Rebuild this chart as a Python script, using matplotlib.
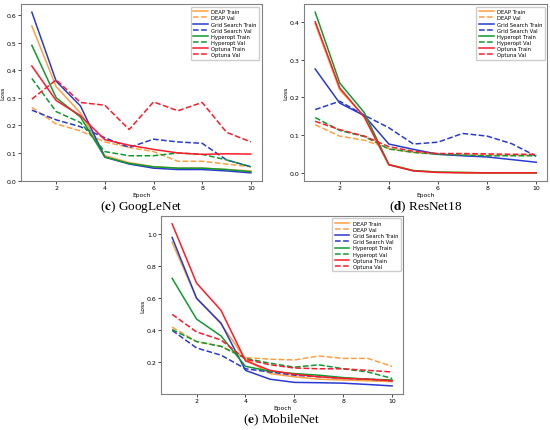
import matplotlib.pyplot as plt

plt.rcParams['mathtext.fontset'] = 'stix'

epochs = [1, 2, 3, 4, 5, 6, 7, 8, 9, 10]
methods = ['DEAP', 'Grid Search', 'Hyperopt', 'Optuna']
colors = ['#ffa040', '#2a3ad0', '#109a30', '#ff1a2a']

# GoogLeNet
g_deap_train = [0.56, 0.34, 0.245, 0.09, 0.065, 0.05, 0.045, 0.045, 0.04, 0.035]
g_deap_val = [0.265, 0.205, 0.18, 0.14, 0.12, 0.105, 0.07, 0.07, 0.06, 0.05]
g_grid_train = [0.61, 0.36, 0.27, 0.085, 0.06, 0.045, 0.04, 0.04, 0.035, 0.028]
g_grid_val = [0.255, 0.22, 0.195, 0.155, 0.12, 0.15, 0.14, 0.135, 0.075, 0.05]
g_hyp_train = [0.49, 0.30, 0.23, 0.085, 0.062, 0.05, 0.045, 0.045, 0.04, 0.032]
g_hyp_val = [0.37, 0.25, 0.21, 0.105, 0.09, 0.09, 0.10, 0.095, 0.075, 0.05]
g_opt_train = [0.415, 0.29, 0.235, 0.148, 0.128, 0.113, 0.10, 0.095, 0.097, 0.096]
g_opt_val = [0.295, 0.365, 0.283, 0.273, 0.185, 0.285, 0.253, 0.283, 0.175, 0.14]

# ResNet18
r_deap_train = [0.395, 0.22, 0.15, 0.023, 0.007, 0.003, 0.002, 0.001, 0.001, 0.001]
r_deap_val = [0.128, 0.098, 0.087, 0.065, 0.055, 0.05, 0.05, 0.048, 0.048, 0.048]
r_grid_train = [0.275, 0.185, 0.152, 0.077, 0.063, 0.05, 0.046, 0.043, 0.036, 0.029]
r_grid_val = [0.168, 0.19, 0.153, 0.12, 0.077, 0.082, 0.105, 0.098, 0.078, 0.045]
r_hyp_train = [0.425, 0.238, 0.16, 0.023, 0.007, 0.003, 0.002, 0.001, 0.001, 0.001]
r_hyp_val = [0.147, 0.113, 0.097, 0.064, 0.055, 0.05, 0.048, 0.046, 0.046, 0.046]
r_opt_train = [0.40, 0.225, 0.148, 0.022, 0.006, 0.002, 0.001, 0.001, 0.001, 0.001]
r_opt_val = [0.137, 0.115, 0.098, 0.07, 0.058, 0.052, 0.052, 0.051, 0.05, 0.05]

# MobileNet
m_deap_train = [0.95, 0.60, 0.44, 0.22, 0.13, 0.11, 0.095, 0.09, 0.085, 0.08]
m_deap_val = [0.42, 0.33, 0.30, 0.23, 0.22, 0.215, 0.24, 0.225, 0.225, 0.175]
m_grid_train = [0.98, 0.60, 0.445, 0.15, 0.095, 0.075, 0.073, 0.07, 0.062, 0.053]
m_grid_val = [0.40, 0.29, 0.245, 0.16, 0.14, 0.12, 0.11, 0.10, 0.095, 0.085]
m_hyp_train = [0.725, 0.47, 0.365, 0.175, 0.145, 0.13, 0.12, 0.105, 0.095, 0.09]
m_hyp_val = [0.405, 0.33, 0.30, 0.225, 0.195, 0.17, 0.185, 0.16, 0.14, 0.10]
m_opt_train = [1.065, 0.695, 0.525, 0.21, 0.15, 0.125, 0.11, 0.10, 0.095, 0.085]
m_opt_val = [0.50, 0.39, 0.34, 0.22, 0.185, 0.165, 0.16, 0.16, 0.15, 0.14]

panels = [
    ([0.038, 0.578, 0.438, 0.41], 'c', 'GoogLeNet',
     [g_deap_train, g_deap_val, g_grid_train, g_grid_val,
      g_hyp_train, g_hyp_val, g_opt_train, g_opt_val]),
    ([0.553, 0.578, 0.442, 0.41], 'd', 'ResNet18',
     [r_deap_train, r_deap_val, r_grid_train, r_grid_val,
      r_hyp_train, r_hyp_val, r_opt_train, r_opt_val]),
    ([0.293, 0.0835, 0.44, 0.4135], 'e', 'MobileNet',
     [m_deap_train, m_deap_val, m_grid_train, m_grid_val,
      m_hyp_train, m_hyp_val, m_opt_train, m_opt_val]),
]

fig = plt.figure(figsize=(5.5, 4.31), dpi=100)

for rect, letter, name, series in panels:
    ax = fig.add_axes(rect)
    for i, m in enumerate(methods):
        ax.plot(epochs, series[2 * i], color=colors[i], lw=1.1, label=m + ' Train')
        ax.plot(epochs, series[2 * i + 1], color=colors[i], lw=1.1, ls='--', label=m + ' Val')
    ax.set_xlabel('Epoch', fontsize=4.3, labelpad=1)
    ax.set_ylabel('Loss', fontsize=4.3, labelpad=1)
    ax.set_xticks([2, 4, 6, 8, 10])
    ax.tick_params(labelsize=4.5, length=2, width=0.5, pad=1.2)
    for s in ax.spines.values():
        s.set_color('#808080')
        s.set_linewidth(0.8)
    ax.legend(loc='upper right', fontsize=3.8, handlelength=2.8, labelspacing=0.22,
              borderpad=0.45, handletextpad=0.6, framealpha=1, edgecolor='#cccccc',
              fancybox=True)
    cx = rect[0] + rect[2] / 2
    cy = rect[1] - 0.059
    fig.text(cx, cy, '(' + r'$\mathbf{' + letter + '}$' + ') ' + name,
             ha='center', va='center', fontsize=9.5, family='Liberation Serif')

plt.savefig('out.png', dpi=100)
